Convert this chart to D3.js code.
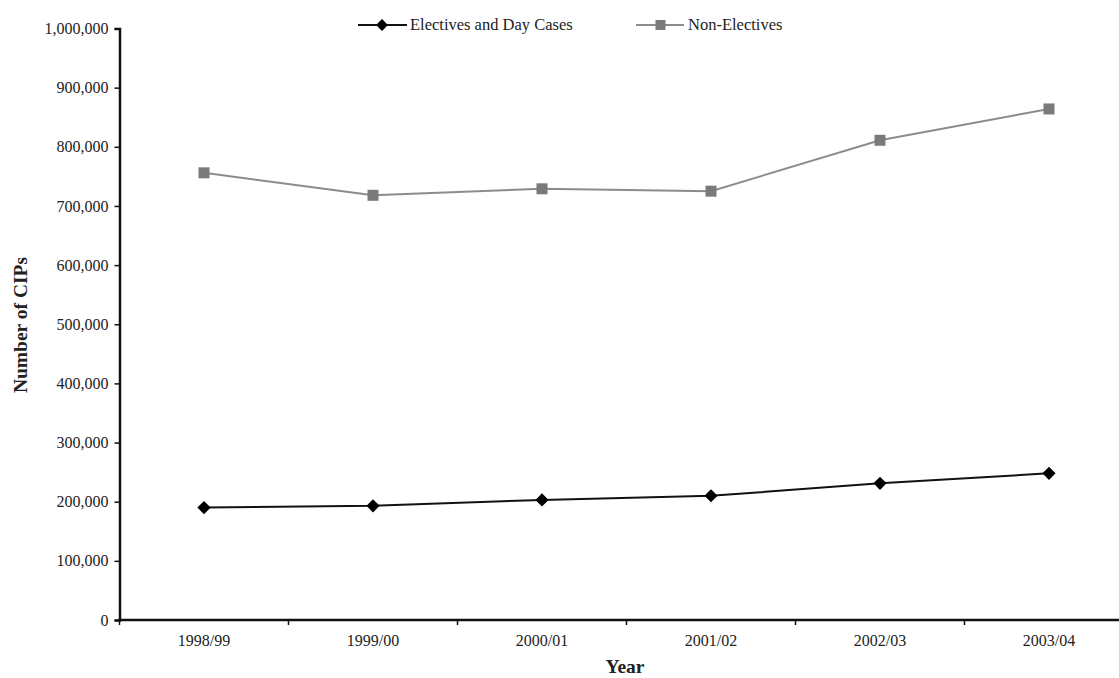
<!DOCTYPE html>
<html>
<head>
<meta charset="utf-8">
<script src="https://cdn.jsdelivr.net/npm/d3@7"></script>
<style>
  html, body { margin: 0; padding: 0; background: #fff; }
  svg { display: block; }
  text { font-family: "Liberation Serif", "Times New Roman", serif; fill: #222; }
</style>
</head>
<body>
<svg id="chart" width="1119" height="678"></svg>
<script>
// Completed inpatient spells (CIPs) by financial year
const years = ["1998/99", "1999/00", "2000/01", "2001/02", "2002/03", "2003/04"];
const electives = [190000, 193000, 203000, 210000, 231000, 248000];
const nonElectives = [756000, 718000, 729000, 725000, 811000, 864000];
const yTicks = [0, 100000, 200000, 300000, 400000, 500000, 600000, 700000, 800000, 900000, 1000000];

const svg = d3.select("#chart");
const plotLeft = 119.5, plotTop = 28.5, plotBottom = 620;
const band = 169;

const x = d3.scaleBand().domain(years).range([plotLeft, plotLeft + band * years.length]).padding(0);
const y = d3.scaleLinear().domain([0, 1000000]).range([plotBottom, plotTop]);
const cx = d => x(d) + x.bandwidth() / 2;

// Y axis
const yAxis = svg.append("g")
  .attr("transform", `translate(${plotLeft},0)`)
  .call(d3.axisLeft(y).tickValues(yTicks).tickSize(5).tickPadding(6).tickFormat(d3.format(",")));
yAxis.select(".domain").attr("stroke", "#111").attr("stroke-width", 2.5);
yAxis.selectAll(".tick line").attr("stroke", "#111").attr("stroke-width", 1.5);
yAxis.selectAll(".tick text").style("font-size", "16px").style("font-family", "Liberation Serif").attr("fill", "#222");

// X axis: labels centred in each band, tick marks on the band boundaries
const xAxis = svg.append("g")
  .attr("transform", `translate(0,${plotBottom})`)
  .call(d3.axisBottom(x).tickSize(0).tickPadding(15));
xAxis.select(".domain").remove();
xAxis.selectAll(".tick text").style("font-size", "16px").style("font-family", "Liberation Serif").attr("fill", "#222");
svg.append("line")
  .attr("x1", plotLeft - 1).attr("x2", plotLeft + band * years.length)
  .attr("y1", plotBottom).attr("y2", plotBottom)
  .attr("stroke", "#111").attr("stroke-width", 2.5);
svg.append("g").selectAll("line")
  .data(years.concat(["end"]))
  .join("line")
  .attr("x1", (d, i) => plotLeft + i * band).attr("x2", (d, i) => plotLeft + i * band)
  .attr("y1", plotBottom).attr("y2", plotBottom + 5)
  .attr("stroke", "#111").attr("stroke-width", 1.5);

// Axis titles
svg.append("text")
  .attr("x", 625).attr("y", 673)
  .attr("text-anchor", "middle")
  .style("font-size", "19.5px").style("font-weight", "bold")
  .text("Year");
svg.append("text")
  .attr("transform", "translate(27,325) rotate(-90)")
  .attr("text-anchor", "middle")
  .style("font-size", "19.5px").style("font-weight", "bold")
  .text("Number of CIPs");

const line = d3.line().x((d, i) => cx(years[i])).y(d => y(d));

// Non-electives series
svg.append("path").datum(nonElectives)
  .attr("d", line).attr("fill", "none")
  .attr("stroke", "#8c8c8c").attr("stroke-width", 2);
svg.append("g").selectAll("rect")
  .data(nonElectives)
  .join("rect")
  .attr("x", (d, i) => cx(years[i]) - 5.5).attr("y", d => y(d) - 5.5)
  .attr("width", 11).attr("height", 11)
  .attr("fill", "#7a7a7a");

// Electives and day cases series
const diamond = d3.symbol().type(d3.symbolDiamond2).size(110);
svg.append("path").datum(electives)
  .attr("d", line).attr("fill", "none")
  .attr("stroke", "#111").attr("stroke-width", 2);
svg.append("g").selectAll("path")
  .data(electives)
  .join("path")
  .attr("d", diamond)
  .attr("transform", (d, i) => `translate(${cx(years[i])},${y(d)})`)
  .attr("fill", "#000");

// Legend
const legend = svg.append("g");
legend.append("line").attr("x1", 358).attr("x2", 407).attr("y1", 25).attr("y2", 25)
  .attr("stroke", "#111").attr("stroke-width", 2);
legend.append("path").attr("d", d3.symbol().type(d3.symbolDiamond2).size(90))
  .attr("transform", "translate(382,25)").attr("fill", "#000");
legend.append("text").attr("x", 410).attr("y", 30)
  .style("font-size", "16.5px").text("Electives and Day Cases");
legend.append("line").attr("x1", 636).attr("x2", 684).attr("y1", 25).attr("y2", 25)
  .attr("stroke", "#8c8c8c").attr("stroke-width", 2);
legend.append("rect").attr("x", 655.5).attr("y", 20).attr("width", 10).attr("height", 10)
  .attr("fill", "#7a7a7a");
legend.append("text").attr("x", 688).attr("y", 30)
  .style("font-size", "16.5px").text("Non-Electives");
</script>
</body>
</html>
